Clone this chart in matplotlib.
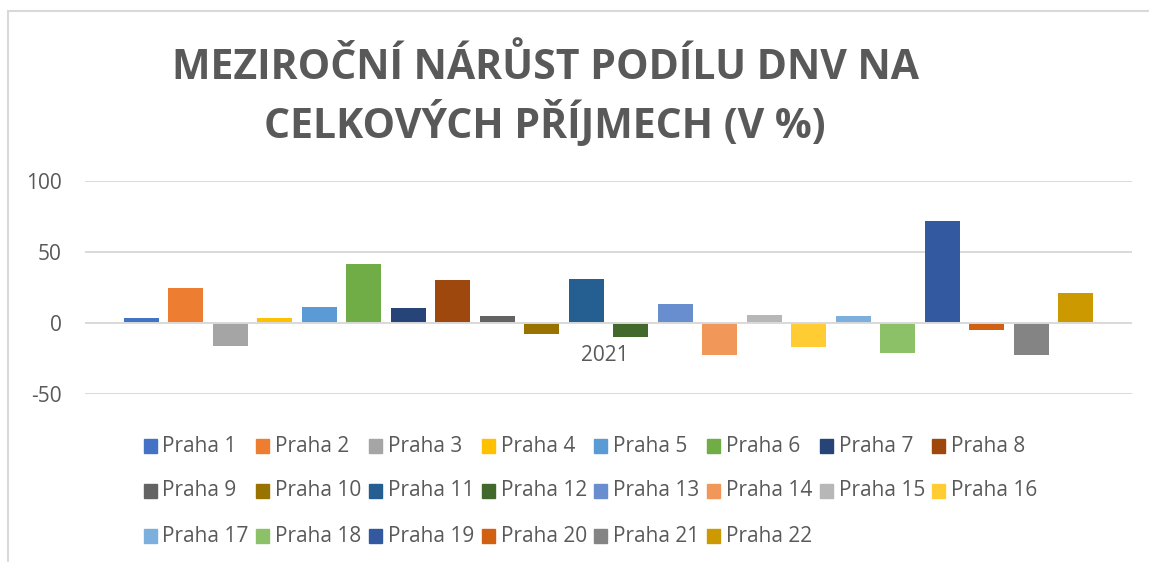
import matplotlib.pyplot as plt
from matplotlib.lines import Line2D
from matplotlib.patches import Rectangle

# meziroční nárůst podílu DNV na celkových příjmech, rok 2021
year = '2021'
districts = ['Praha %d' % i for i in range(1, 23)]
growth = [3.3, 24.4, -16.2, 3.3, 11.0, 41.3, 10.3, 30.0, 4.7, -7.7, 30.8,
          -9.9, 13.2, -22.5, 5.4, -16.9, 4.7, -21.1, 71.6, -4.9, -22.5, 20.9]
colors = ['#4472C4', '#ED7D31', '#A5A5A5', '#FFC000', '#5B9BD5', '#70AD47',
          '#264478', '#9E480E', '#636363', '#997300', '#255E91', '#43682B',
          '#698ED0', '#F1975A', '#B7B7B7', '#FFCD33', '#7CAFDD', '#8CC168',
          '#335AA1', '#D26012', '#848484', '#CC9A00']
yticks = [-50, 0, 50, 100]

TEXT = '#595959'
GRID = '#D9D9D9'
W, H = 1149, 562

plt.rcParams['font.family'] = ['Open Sans', 'DejaVu Sans']

fig = plt.figure(figsize=(W / 100, H / 100), dpi=100)
ax = fig.add_axes([85 / W, 1 - 394 / H, (1132 - 85) / W, (394 - 181) / H])

# clustered bars of a single category, spread around x = 0
pitch = 0.0425
width = 0.0334
n = len(growth)
for i, (val, col) in enumerate(zip(growth, colors)):
    ax.bar((i - (n - 1) / 2) * pitch, val, width=width, color=col, zorder=2)

ax.set_xlim(-0.5, 0.5)
ax.set_ylim(-50, 100)
ax.set_yticks(yticks)
ax.set_yticklabels([str(t) for t in yticks])
for t in yticks:
    ax.axhline(t, color=GRID, lw=1.4, zorder=1 if t else 3)

# category label sits just under the zero line
ax.set_xticks([])
ax.annotate(year, (0, 0), xytext=(-3, -16), textcoords='offset points',
            ha='center', va='top', fontsize=15, color=TEXT)

ax.tick_params(axis='y', length=0, pad=17, labelsize=15, labelcolor=TEXT)
for s in ax.spines.values():
    s.set_visible(False)

fig.text(545 / W, 1 - 68 / H, 'MEZIROČNÍ NÁRŮST PODÍLU DNV NA', ha='center',
         va='center', fontsize=29.5, fontweight='bold', color=TEXT)
fig.text(545 / W, 1 - 125 / H, 'CELKOVÝCH PŘÍJMECH (V %)', ha='center',
         va='center', fontsize=29.5, fontweight='bold', color=TEXT)

# legend laid out row by row, 8 entries per row
for i, (name, col) in enumerate(zip(districts, colors)):
    r, c = divmod(i, 8)
    x = 143.5 + 112.7 * c
    y = 446 + 45 * r
    fig.patches.append(Rectangle((x / W, 1 - (y + 7) / H), 13 / W, 14 / H,
                                 transform=fig.transFigure, color=col))
    fig.text((x + 19) / W, 1 - y / H, name, ha='left', va='center',
             fontsize=15, color=TEXT)

# chart frame (left and top edges)
fig.add_artist(Line2D([8 / W, 8 / W], [0, 1 - 10.5 / H], color=GRID, lw=1.5,
                      transform=fig.transFigure))
fig.add_artist(Line2D([8 / W, 1], [1 - 10.5 / H, 1 - 10.5 / H], color=GRID,
                      lw=1.5, transform=fig.transFigure))

fig.savefig('out.png', dpi=100, facecolor='white')
